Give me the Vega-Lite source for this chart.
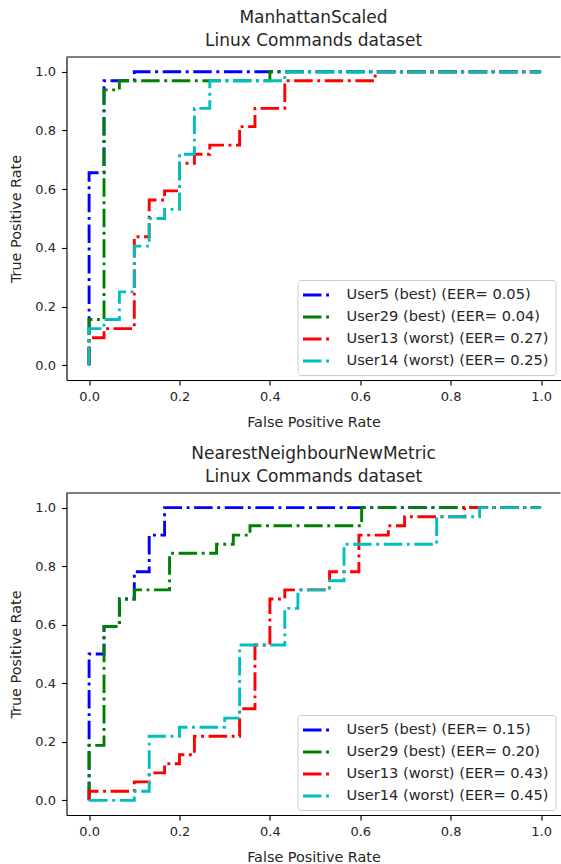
{
  "$schema": "https://vega.github.io/schema/vega-lite/v6.json",
  "background": "white",
  "padding": {"left": 8.5, "top": 8, "right": 0, "bottom": 0},
  "datasets": {
    "roc": [
      {"p":"A","s":"User5 (best) (EER= 0.05)","i":0,"x":0,"y":0},
      {"p":"A","s":"User5 (best) (EER= 0.05)","i":1,"x":0,"y":0.656},
      {"p":"A","s":"User5 (best) (EER= 0.05)","i":2,"x":0.033,"y":0.656},
      {"p":"A","s":"User5 (best) (EER= 0.05)","i":3,"x":0.033,"y":0.969},
      {"p":"A","s":"User5 (best) (EER= 0.05)","i":4,"x":0.1,"y":0.969},
      {"p":"A","s":"User5 (best) (EER= 0.05)","i":5,"x":0.1,"y":1},
      {"p":"A","s":"User5 (best) (EER= 0.05)","i":6,"x":1,"y":1},

      {"p":"A","s":"User29 (best) (EER= 0.04)","i":0,"x":0,"y":0},
      {"p":"A","s":"User29 (best) (EER= 0.04)","i":1,"x":0,"y":0.156},
      {"p":"A","s":"User29 (best) (EER= 0.04)","i":2,"x":0.033,"y":0.156},
      {"p":"A","s":"User29 (best) (EER= 0.04)","i":3,"x":0.033,"y":0.938},
      {"p":"A","s":"User29 (best) (EER= 0.04)","i":4,"x":0.067,"y":0.938},
      {"p":"A","s":"User29 (best) (EER= 0.04)","i":5,"x":0.067,"y":0.969},
      {"p":"A","s":"User29 (best) (EER= 0.04)","i":6,"x":0.4,"y":0.969},
      {"p":"A","s":"User29 (best) (EER= 0.04)","i":7,"x":0.4,"y":1},
      {"p":"A","s":"User29 (best) (EER= 0.04)","i":8,"x":1,"y":1},

      {"p":"A","s":"User13 (worst) (EER= 0.27)","i":0,"x":0,"y":0},
      {"p":"A","s":"User13 (worst) (EER= 0.27)","i":1,"x":0,"y":0.094},
      {"p":"A","s":"User13 (worst) (EER= 0.27)","i":2,"x":0.033,"y":0.094},
      {"p":"A","s":"User13 (worst) (EER= 0.27)","i":3,"x":0.033,"y":0.125},
      {"p":"A","s":"User13 (worst) (EER= 0.27)","i":4,"x":0.1,"y":0.125},
      {"p":"A","s":"User13 (worst) (EER= 0.27)","i":5,"x":0.1,"y":0.438},
      {"p":"A","s":"User13 (worst) (EER= 0.27)","i":6,"x":0.133,"y":0.438},
      {"p":"A","s":"User13 (worst) (EER= 0.27)","i":7,"x":0.133,"y":0.563},
      {"p":"A","s":"User13 (worst) (EER= 0.27)","i":8,"x":0.167,"y":0.563},
      {"p":"A","s":"User13 (worst) (EER= 0.27)","i":9,"x":0.167,"y":0.594},
      {"p":"A","s":"User13 (worst) (EER= 0.27)","i":10,"x":0.2,"y":0.594},
      {"p":"A","s":"User13 (worst) (EER= 0.27)","i":11,"x":0.2,"y":0.688},
      {"p":"A","s":"User13 (worst) (EER= 0.27)","i":12,"x":0.233,"y":0.688},
      {"p":"A","s":"User13 (worst) (EER= 0.27)","i":13,"x":0.233,"y":0.719},
      {"p":"A","s":"User13 (worst) (EER= 0.27)","i":14,"x":0.267,"y":0.719},
      {"p":"A","s":"User13 (worst) (EER= 0.27)","i":15,"x":0.267,"y":0.75},
      {"p":"A","s":"User13 (worst) (EER= 0.27)","i":16,"x":0.333,"y":0.75},
      {"p":"A","s":"User13 (worst) (EER= 0.27)","i":17,"x":0.333,"y":0.813},
      {"p":"A","s":"User13 (worst) (EER= 0.27)","i":18,"x":0.367,"y":0.813},
      {"p":"A","s":"User13 (worst) (EER= 0.27)","i":19,"x":0.367,"y":0.875},
      {"p":"A","s":"User13 (worst) (EER= 0.27)","i":20,"x":0.433,"y":0.875},
      {"p":"A","s":"User13 (worst) (EER= 0.27)","i":21,"x":0.433,"y":0.969},
      {"p":"A","s":"User13 (worst) (EER= 0.27)","i":22,"x":0.633,"y":0.969},
      {"p":"A","s":"User13 (worst) (EER= 0.27)","i":23,"x":0.633,"y":1},
      {"p":"A","s":"User13 (worst) (EER= 0.27)","i":24,"x":1,"y":1},

      {"p":"A","s":"User14 (worst) (EER= 0.25)","i":0,"x":0,"y":0},
      {"p":"A","s":"User14 (worst) (EER= 0.25)","i":1,"x":0,"y":0.125},
      {"p":"A","s":"User14 (worst) (EER= 0.25)","i":2,"x":0.033,"y":0.125},
      {"p":"A","s":"User14 (worst) (EER= 0.25)","i":3,"x":0.033,"y":0.156},
      {"p":"A","s":"User14 (worst) (EER= 0.25)","i":4,"x":0.067,"y":0.156},
      {"p":"A","s":"User14 (worst) (EER= 0.25)","i":5,"x":0.067,"y":0.25},
      {"p":"A","s":"User14 (worst) (EER= 0.25)","i":6,"x":0.1,"y":0.25},
      {"p":"A","s":"User14 (worst) (EER= 0.25)","i":7,"x":0.1,"y":0.406},
      {"p":"A","s":"User14 (worst) (EER= 0.25)","i":8,"x":0.133,"y":0.406},
      {"p":"A","s":"User14 (worst) (EER= 0.25)","i":9,"x":0.133,"y":0.5},
      {"p":"A","s":"User14 (worst) (EER= 0.25)","i":10,"x":0.167,"y":0.5},
      {"p":"A","s":"User14 (worst) (EER= 0.25)","i":11,"x":0.167,"y":0.531},
      {"p":"A","s":"User14 (worst) (EER= 0.25)","i":12,"x":0.2,"y":0.531},
      {"p":"A","s":"User14 (worst) (EER= 0.25)","i":13,"x":0.2,"y":0.719},
      {"p":"A","s":"User14 (worst) (EER= 0.25)","i":14,"x":0.233,"y":0.719},
      {"p":"A","s":"User14 (worst) (EER= 0.25)","i":15,"x":0.233,"y":0.875},
      {"p":"A","s":"User14 (worst) (EER= 0.25)","i":16,"x":0.267,"y":0.875},
      {"p":"A","s":"User14 (worst) (EER= 0.25)","i":17,"x":0.267,"y":0.969},
      {"p":"A","s":"User14 (worst) (EER= 0.25)","i":18,"x":0.433,"y":0.969},
      {"p":"A","s":"User14 (worst) (EER= 0.25)","i":19,"x":0.433,"y":1},
      {"p":"A","s":"User14 (worst) (EER= 0.25)","i":20,"x":1,"y":1},

      {"p":"B","s":"User5 (best) (EER= 0.15)","i":0,"x":0,"y":0},
      {"p":"B","s":"User5 (best) (EER= 0.15)","i":1,"x":0,"y":0.5},
      {"p":"B","s":"User5 (best) (EER= 0.15)","i":2,"x":0.033,"y":0.5},
      {"p":"B","s":"User5 (best) (EER= 0.15)","i":3,"x":0.033,"y":0.594},
      {"p":"B","s":"User5 (best) (EER= 0.15)","i":4,"x":0.067,"y":0.594},
      {"p":"B","s":"User5 (best) (EER= 0.15)","i":5,"x":0.067,"y":0.688},
      {"p":"B","s":"User5 (best) (EER= 0.15)","i":6,"x":0.1,"y":0.688},
      {"p":"B","s":"User5 (best) (EER= 0.15)","i":7,"x":0.1,"y":0.781},
      {"p":"B","s":"User5 (best) (EER= 0.15)","i":8,"x":0.133,"y":0.781},
      {"p":"B","s":"User5 (best) (EER= 0.15)","i":9,"x":0.133,"y":0.906},
      {"p":"B","s":"User5 (best) (EER= 0.15)","i":10,"x":0.167,"y":0.906},
      {"p":"B","s":"User5 (best) (EER= 0.15)","i":11,"x":0.167,"y":1},
      {"p":"B","s":"User5 (best) (EER= 0.15)","i":12,"x":1,"y":1},

      {"p":"B","s":"User29 (best) (EER= 0.20)","i":0,"x":0,"y":0},
      {"p":"B","s":"User29 (best) (EER= 0.20)","i":1,"x":0,"y":0.188},
      {"p":"B","s":"User29 (best) (EER= 0.20)","i":2,"x":0.033,"y":0.188},
      {"p":"B","s":"User29 (best) (EER= 0.20)","i":3,"x":0.033,"y":0.594},
      {"p":"B","s":"User29 (best) (EER= 0.20)","i":4,"x":0.067,"y":0.594},
      {"p":"B","s":"User29 (best) (EER= 0.20)","i":5,"x":0.067,"y":0.688},
      {"p":"B","s":"User29 (best) (EER= 0.20)","i":6,"x":0.1,"y":0.688},
      {"p":"B","s":"User29 (best) (EER= 0.20)","i":7,"x":0.1,"y":0.719},
      {"p":"B","s":"User29 (best) (EER= 0.20)","i":8,"x":0.178,"y":0.719},
      {"p":"B","s":"User29 (best) (EER= 0.20)","i":9,"x":0.178,"y":0.844},
      {"p":"B","s":"User29 (best) (EER= 0.20)","i":10,"x":0.282,"y":0.844},
      {"p":"B","s":"User29 (best) (EER= 0.20)","i":11,"x":0.282,"y":0.875},
      {"p":"B","s":"User29 (best) (EER= 0.20)","i":12,"x":0.319,"y":0.875},
      {"p":"B","s":"User29 (best) (EER= 0.20)","i":13,"x":0.319,"y":0.906},
      {"p":"B","s":"User29 (best) (EER= 0.20)","i":14,"x":0.356,"y":0.906},
      {"p":"B","s":"User29 (best) (EER= 0.20)","i":15,"x":0.356,"y":0.938},
      {"p":"B","s":"User29 (best) (EER= 0.20)","i":16,"x":0.603,"y":0.938},
      {"p":"B","s":"User29 (best) (EER= 0.20)","i":17,"x":0.603,"y":1},
      {"p":"B","s":"User29 (best) (EER= 0.20)","i":18,"x":1,"y":1},

      {"p":"B","s":"User13 (worst) (EER= 0.43)","i":0,"x":0,"y":0},
      {"p":"B","s":"User13 (worst) (EER= 0.43)","i":1,"x":0,"y":0.031},
      {"p":"B","s":"User13 (worst) (EER= 0.43)","i":2,"x":0.1,"y":0.031},
      {"p":"B","s":"User13 (worst) (EER= 0.43)","i":3,"x":0.1,"y":0.063},
      {"p":"B","s":"User13 (worst) (EER= 0.43)","i":4,"x":0.133,"y":0.063},
      {"p":"B","s":"User13 (worst) (EER= 0.43)","i":5,"x":0.133,"y":0.094},
      {"p":"B","s":"User13 (worst) (EER= 0.43)","i":6,"x":0.167,"y":0.094},
      {"p":"B","s":"User13 (worst) (EER= 0.43)","i":7,"x":0.167,"y":0.125},
      {"p":"B","s":"User13 (worst) (EER= 0.43)","i":8,"x":0.2,"y":0.125},
      {"p":"B","s":"User13 (worst) (EER= 0.43)","i":9,"x":0.2,"y":0.156},
      {"p":"B","s":"User13 (worst) (EER= 0.43)","i":10,"x":0.233,"y":0.156},
      {"p":"B","s":"User13 (worst) (EER= 0.43)","i":11,"x":0.233,"y":0.219},
      {"p":"B","s":"User13 (worst) (EER= 0.43)","i":12,"x":0.333,"y":0.219},
      {"p":"B","s":"User13 (worst) (EER= 0.43)","i":13,"x":0.333,"y":0.313},
      {"p":"B","s":"User13 (worst) (EER= 0.43)","i":14,"x":0.367,"y":0.313},
      {"p":"B","s":"User13 (worst) (EER= 0.43)","i":15,"x":0.367,"y":0.531},
      {"p":"B","s":"User13 (worst) (EER= 0.43)","i":16,"x":0.4,"y":0.531},
      {"p":"B","s":"User13 (worst) (EER= 0.43)","i":17,"x":0.4,"y":0.688},
      {"p":"B","s":"User13 (worst) (EER= 0.43)","i":18,"x":0.433,"y":0.688},
      {"p":"B","s":"User13 (worst) (EER= 0.43)","i":19,"x":0.433,"y":0.719},
      {"p":"B","s":"User13 (worst) (EER= 0.43)","i":20,"x":0.532,"y":0.719},
      {"p":"B","s":"User13 (worst) (EER= 0.43)","i":21,"x":0.532,"y":0.781},
      {"p":"B","s":"User13 (worst) (EER= 0.43)","i":22,"x":0.597,"y":0.781},
      {"p":"B","s":"User13 (worst) (EER= 0.43)","i":23,"x":0.597,"y":0.906},
      {"p":"B","s":"User13 (worst) (EER= 0.43)","i":24,"x":0.662,"y":0.906},
      {"p":"B","s":"User13 (worst) (EER= 0.43)","i":25,"x":0.662,"y":0.938},
      {"p":"B","s":"User13 (worst) (EER= 0.43)","i":26,"x":0.698,"y":0.938},
      {"p":"B","s":"User13 (worst) (EER= 0.43)","i":27,"x":0.698,"y":0.969},
      {"p":"B","s":"User13 (worst) (EER= 0.43)","i":28,"x":0.831,"y":0.969},
      {"p":"B","s":"User13 (worst) (EER= 0.43)","i":29,"x":0.831,"y":1},
      {"p":"B","s":"User13 (worst) (EER= 0.43)","i":30,"x":1,"y":1},

      {"p":"B","s":"User14 (worst) (EER= 0.45)","i":0,"x":0,"y":0},
      {"p":"B","s":"User14 (worst) (EER= 0.45)","i":1,"x":0.1,"y":0},
      {"p":"B","s":"User14 (worst) (EER= 0.45)","i":2,"x":0.1,"y":0.031},
      {"p":"B","s":"User14 (worst) (EER= 0.45)","i":3,"x":0.133,"y":0.031},
      {"p":"B","s":"User14 (worst) (EER= 0.45)","i":4,"x":0.133,"y":0.219},
      {"p":"B","s":"User14 (worst) (EER= 0.45)","i":5,"x":0.2,"y":0.219},
      {"p":"B","s":"User14 (worst) (EER= 0.45)","i":6,"x":0.2,"y":0.25},
      {"p":"B","s":"User14 (worst) (EER= 0.45)","i":7,"x":0.3,"y":0.25},
      {"p":"B","s":"User14 (worst) (EER= 0.45)","i":8,"x":0.3,"y":0.281},
      {"p":"B","s":"User14 (worst) (EER= 0.45)","i":9,"x":0.333,"y":0.281},
      {"p":"B","s":"User14 (worst) (EER= 0.45)","i":10,"x":0.333,"y":0.531},
      {"p":"B","s":"User14 (worst) (EER= 0.45)","i":11,"x":0.433,"y":0.531},
      {"p":"B","s":"User14 (worst) (EER= 0.45)","i":12,"x":0.433,"y":0.656},
      {"p":"B","s":"User14 (worst) (EER= 0.45)","i":13,"x":0.462,"y":0.656},
      {"p":"B","s":"User14 (worst) (EER= 0.45)","i":14,"x":0.462,"y":0.719},
      {"p":"B","s":"User14 (worst) (EER= 0.45)","i":15,"x":0.532,"y":0.719},
      {"p":"B","s":"User14 (worst) (EER= 0.45)","i":16,"x":0.532,"y":0.75},
      {"p":"B","s":"User14 (worst) (EER= 0.45)","i":17,"x":0.564,"y":0.75},
      {"p":"B","s":"User14 (worst) (EER= 0.45)","i":18,"x":0.564,"y":0.875},
      {"p":"B","s":"User14 (worst) (EER= 0.45)","i":19,"x":0.769,"y":0.875},
      {"p":"B","s":"User14 (worst) (EER= 0.45)","i":20,"x":0.769,"y":0.969},
      {"p":"B","s":"User14 (worst) (EER= 0.45)","i":21,"x":0.864,"y":0.969},
      {"p":"B","s":"User14 (worst) (EER= 0.45)","i":22,"x":0.864,"y":1},
      {"p":"B","s":"User14 (worst) (EER= 0.45)","i":23,"x":1,"y":1}
    ]
  },
  "config": {
    "view": {"stroke": null},
    "font": "DejaVu Sans",
    "axis": {
      "labelFont": "DejaVu Sans", "labelFontSize": 13, "labelColor": "#262626",
      "titleFont": "DejaVu Sans", "titleFontSize": 14.4, "titleFontWeight": "normal", "titleColor": "#262626",
      "domainColor": "#000000", "domainWidth": 1.16, "tickColor": "#000000", "tickWidth": 1.16, "tickSize": 5,
      "grid": false, "labelFlush": false, "labelOverlap": false
    },
    "axisX": {"labelPadding": 5.5, "titlePadding": 12},
    "axisY": {"labelPadding": 6, "titlePadding": 11},
    "title": {"font": "DejaVu Sans", "fontSize": 17, "fontWeight": "normal", "color": "#262626", "lineHeight": 23.5, "offset": 6, "anchor": "middle"},
    "legend": {
      "orient": "bottom-right", "offset": 5, "direction": "vertical",
      "labelFont": "DejaVu Sans", "labelFontSize": 14.6, "labelColor": "#262626", "labelLimit": 400,
      "symbolType": "M-2,0H2", "symbolSize": 196, "symbolStrokeWidth": 2.9, "symbolDash": [18.5, 4.6, 2.9, 4.6],
      "symbolOffset": 4.5, "labelOffset": 21, "rowPadding": 6, "padding": 6.5,
      "strokeColor": "#cccccc", "fillColor": "rgba(255,255,255,0.8)", "cornerRadius": 3
    }
  },
  "spacing": 113,
  "bounds": "flush",
  "resolve": {"scale": {"color": "independent"}, "legend": {"color": "independent"}},
  "vconcat": [
    {
      "title": {"text": ["ManhattanScaled", "Linux Commands dataset"]},
      "width": 494, "height": 323,
      "data": {"name": "roc"},
      "transform": [{"filter": "datum.p == 'A'"}],
      "layer": [
        {
          "mark": {"type": "line", "strokeWidth": 2.9, "strokeDash": [18.5, 4.6, 2.9, 4.6]},
          "encoding": {
            "x": {"field": "x", "type": "quantitative", "scale": {"domain": [-0.05, 1.043], "nice": false, "zero": false},
                  "axis": {"title": "False Positive Rate", "values": [0, 0.2, 0.4, 0.6, 0.8, 1.0], "format": ".1f"}},
            "y": {"field": "y", "type": "quantitative", "scale": {"domain": [-0.05, 1.05], "nice": false, "zero": false},
                  "axis": {"title": "True Positive Rate", "values": [0, 0.2, 0.4, 0.6, 0.8, 1.0], "format": ".1f"}},
            "color": {"field": "s", "type": "nominal",
                      "scale": {"domain": ["User5 (best) (EER= 0.05)", "User29 (best) (EER= 0.04)", "User13 (worst) (EER= 0.27)", "User14 (worst) (EER= 0.25)"],
                                "range": ["#0000ff", "#008000", "#ff0000", "#00bfbf"]},
                      "legend": {"title": null}},
            "order": {"field": "i", "type": "quantitative"}
          }
        },
        {
          "data": {"values": [{}]},
          "mark": {"type": "rule", "color": "#000000", "strokeWidth": 1.16},
          "encoding": {"y": {"datum": 1.05, "type": "quantitative",
                             "axis": {"title": "True Positive Rate", "values": [0, 0.2, 0.4, 0.6, 0.8, 1.0], "format": ".1f"}}}
        }
      ]
    },
    {
      "title": {"text": ["NearestNeighbourNewMetric", "Linux Commands dataset"]},
      "width": 494, "height": 322,
      "data": {"name": "roc"},
      "transform": [{"filter": "datum.p == 'B'"}],
      "layer": [
        {
          "mark": {"type": "line", "strokeWidth": 2.9, "strokeDash": [18.5, 4.6, 2.9, 4.6]},
          "encoding": {
            "x": {"field": "x", "type": "quantitative", "scale": {"domain": [-0.05, 1.043], "nice": false, "zero": false},
                  "axis": {"title": "False Positive Rate", "values": [0, 0.2, 0.4, 0.6, 0.8, 1.0], "format": ".1f"}},
            "y": {"field": "y", "type": "quantitative", "scale": {"domain": [-0.05, 1.05], "nice": false, "zero": false},
                  "axis": {"title": "True Positive Rate", "values": [0, 0.2, 0.4, 0.6, 0.8, 1.0], "format": ".1f"}},
            "color": {"field": "s", "type": "nominal",
                      "scale": {"domain": ["User5 (best) (EER= 0.15)", "User29 (best) (EER= 0.20)", "User13 (worst) (EER= 0.43)", "User14 (worst) (EER= 0.45)"],
                                "range": ["#0000ff", "#008000", "#ff0000", "#00bfbf"]},
                      "legend": {"title": null}},
            "order": {"field": "i", "type": "quantitative"}
          }
        },
        {
          "data": {"values": [{}]},
          "mark": {"type": "rule", "color": "#000000", "strokeWidth": 1.16},
          "encoding": {"y": {"datum": 1.05, "type": "quantitative",
                             "axis": {"title": "True Positive Rate", "values": [0, 0.2, 0.4, 0.6, 0.8, 1.0], "format": ".1f"}}}
        }
      ]
    }
  ]
}
